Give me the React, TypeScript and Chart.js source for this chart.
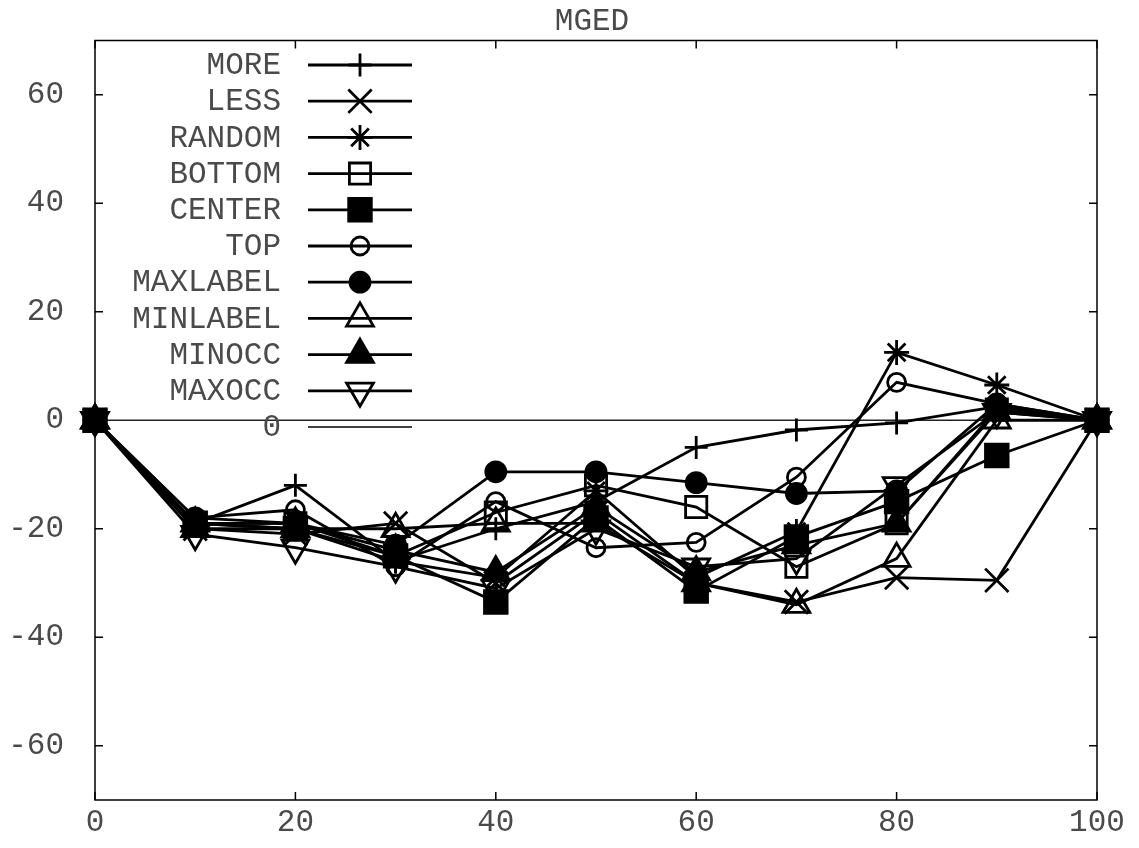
import React, { useEffect, useRef } from 'react';
import { Chart, registerables } from 'chart.js';
import { drawPoint } from 'chart.js/helpers';

Chart.register(...registerables);

const chartTitle = 'MGED';
const xValues = [0, 10, 20, 30, 40, 50, 60, 70, 80, 90, 100];
const xTicks = [0, 20, 40, 60, 80, 100];
const yTicks = [-60, -40, -20, 0, 20, 40, 60];

const seriesNames = ['MORE', 'LESS', 'RANDOM', 'BOTTOM', 'CENTER', 'TOP', 'MAXLABEL', 'MINLABEL', 'MINOCC', 'MAXOCC'];

const moreVals = [0, -19, -12, -26, -20, -15, -5, -1.8, -0.5, 2.5, 0];
const lessVals = [0, -20, -21, -19, -30, -17, -30, -33.5, -29, -29.5, 0];
const randomVals = [0, -19, -20, -26, -29, -13, -29, -20.5, 12.5, 6.5, 0];
const bottomVals = [0, -19, -19, -25, -17, -12, -16, -27, -19, 2, 0];
const centerVals = [0, -19, -20, -25, -33.5, -18, -31.5, -21.5, -15, -6.5, 0];
const topVals = [0, -18, -16.5, -27, -15, -23.5, -22.5, -10.5, 7, 3, 0];
const maxlabelVals = [0, -18, -19, -23, -9.5, -9.5, -11.5, -13.5, -13, 3, 0];
const minlabelVals = [0, -20, -20, -20, -19, -19, -30, -34, -25.5, 0, 0];
const minoccVals = [0, -19, -19, -24, -28, -16, -28, -23, -19, 1.5, 0];
const maxoccVals = [0, -21, -23.5, -27, -31, -20, -27, -25.5, -12, 1.5, 0];
const zeroLabel = '0';
const zeroVals = [0, 0];
const zeroX = [0, 100];

const seriesValues = [moreVals, lessVals, randomVals, bottomVals, centerVals, topVals, maxlabelVals, minlabelVals, minoccVals, maxoccVals];

// marker styles (presentation only)
const markerStyles = [
  { style: 'cross', r: 11.5, fill: 'rgba(0,0,0,0)', rot: 0 },
  { style: 'crossRot', r: 16.5, fill: 'rgba(0,0,0,0)', rot: 0 },
  { style: 'star', r: 12.5, fill: 'rgba(0,0,0,0)', rot: 0 },
  { style: 'rect', r: 15, fill: 'rgba(0,0,0,0)', rot: 0 },
  { style: 'rect', r: 16, fill: '#000', rot: 0 },
  { style: 'circle', r: 9, fill: 'rgba(0,0,0,0)', rot: 0 },
  { style: 'circle', r: 10, fill: '#000', rot: 0 },
  { style: 'triangle', r: 15.5, fill: 'rgba(0,0,0,0)', rot: 0 },
  { style: 'triangle', r: 15.5, fill: '#000', rot: 0 },
  { style: 'triangle', r: 15.5, fill: 'rgba(0,0,0,0)', rot: 180 },
];

const FONT_FAMILY = '"Liberation Mono", "DejaVu Sans Mono", monospace';
const TEXT_COLOR = '#4a4a4a';
const FONT_SIZE = 31;

const frameAndLegendPlugin = {
  id: 'gnuFrameLegend',
  afterDraw(chart: any) {
    const ctx = chart.ctx;
    const area = chart.chartArea;
    const xs = chart.scales.x;
    const ys = chart.scales.y;
    ctx.save();
    // title
    ctx.font = FONT_SIZE + 'px ' + FONT_FAMILY;
    ctx.fillStyle = TEXT_COLOR;
    ctx.textAlign = 'center';
    ctx.textBaseline = 'middle';
    ctx.fillText(chartTitle, (area.left + area.right) / 2 - 4, 22);
    // frame
    ctx.strokeStyle = '#000';
    ctx.lineWidth = 1.5;
    ctx.strokeRect(area.left, area.top, area.right - area.left, area.bottom - area.top);
    // inward ticks on all sides
    const tl = 8;
    ctx.beginPath();
    xTicks.forEach((v) => {
      const px = xs.getPixelForValue(v);
      ctx.moveTo(px, area.bottom);
      ctx.lineTo(px, area.bottom - tl);
      ctx.moveTo(px, area.top);
      ctx.lineTo(px, area.top + tl);
    });
    yTicks.forEach((v) => {
      const py = ys.getPixelForValue(v);
      ctx.moveTo(area.left, py);
      ctx.lineTo(area.left + tl, py);
      ctx.moveTo(area.right, py);
      ctx.lineTo(area.right - tl, py);
    });
    ctx.stroke();

    // legend (gnuplot style: text right-aligned, then line sample with marker)
    ctx.textAlign = 'right';
    const rowStart = 65;
    const rowStep = 36.2;
    chart.data.datasets.forEach((ds: any, i: number) => {
      const y = rowStart + i * rowStep;
      ctx.fillStyle = TEXT_COLOR;
      ctx.fillText(ds.label, 281, y + 1);
      ctx.strokeStyle = '#000';
      ctx.lineWidth = ds.borderWidth;
      ctx.beginPath();
      ctx.moveTo(308, y);
      ctx.lineTo(412, y);
      ctx.stroke();
      if (ds.pointRadius > 0) {
        ctx.fillStyle = ds.pointBackgroundColor;
        ctx.strokeStyle = '#000';
        ctx.lineWidth = ds.pointBorderWidth;
        drawPoint(ctx, {
          pointStyle: ds.pointStyle,
          rotation: ds.pointRotation || 0,
          radius: ds.pointRadius,
          borderWidth: ds.pointBorderWidth,
        } as any, 360, y);
      }
    });
    ctx.restore();
  },
};

export default function App() {
  const canvasRef = useRef<HTMLCanvasElement | null>(null);

  useEffect(() => {
    if (!canvasRef.current) return;
    const datasets: any[] = seriesNames.map((name, i) => ({
      label: name,
      data: xValues.map((x, j) => ({ x, y: seriesValues[i][j] })),
      borderColor: '#000',
      borderWidth: 2.8,
      pointStyle: markerStyles[i].style,
      pointRadius: markerStyles[i].r,
      pointRotation: markerStyles[i].rot,
      pointBackgroundColor: markerStyles[i].fill,
      pointBorderColor: '#000',
      pointBorderWidth: 2.8,
      tension: 0,
      fill: false,
      clip: false,
    }));
    datasets.push({
      label: zeroLabel,
      data: zeroX.map((x, j) => ({ x, y: zeroVals[j] })),
      borderColor: '#222',
      borderWidth: 1.3,
      pointRadius: 0,
      tension: 0,
      fill: false,
      clip: false,
    });

    const chart = new Chart(canvasRef.current, {
      type: 'line',
      data: { datasets },
      options: {
        responsive: false,
        animation: false,
        layout: { padding: { top: 40.5, right: 42, bottom: 0, left: 0 } },
        plugins: {
          legend: { display: false },
          tooltip: { enabled: false },
          title: { display: false },
        },
        scales: {
          x: {
            type: 'linear',
            min: 0,
            max: 100,
            grid: { display: false, drawTicks: false },
            border: { display: false },
            ticks: {
              color: TEXT_COLOR,
              padding: 4,
              maxRotation: 0,
              font: { family: FONT_FAMILY, size: FONT_SIZE },
            },
            afterBuildTicks: (scale: any) => {
              scale.ticks = xTicks.map((v) => ({ value: v }));
            },
            afterFit: (scale: any) => {
              scale.height = 48;
              scale.paddingLeft = 0;
              scale.paddingRight = 0;
              scale.paddingTop = 0;
              scale.paddingBottom = 0;
            },
          },
          y: {
            type: 'linear',
            min: -70,
            max: 70,
            grid: { display: false, drawTicks: false },
            border: { display: false },
            ticks: {
              color: TEXT_COLOR,
              padding: 31,
              font: { family: FONT_FAMILY, size: FONT_SIZE },
            },
            afterBuildTicks: (scale: any) => {
              scale.ticks = yTicks.map((v) => ({ value: v }));
            },
            afterFit: (scale: any) => {
              scale.width = 95;
              scale.paddingLeft = 0;
              scale.paddingRight = 0;
              scale.paddingTop = 0;
              scale.paddingBottom = 0;
            },
          },
        },
      } as any,
      plugins: [frameAndLegendPlugin],
    });
    return () => chart.destroy();
  }, []);

  return (
    <div style={{ position: 'absolute', left: 0, top: 0, width: 1139, height: 848, background: '#fff' }}>
      <canvas ref={canvasRef} width={1139} height={848} />
    </div>
  );
}
